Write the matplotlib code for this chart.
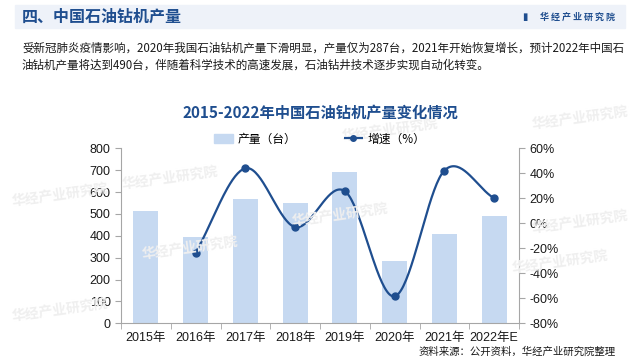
import matplotlib.pyplot as plt
import matplotlib.patches as mpatches
from matplotlib.lines import Line2D
from matplotlib.ticker import FuncFormatter
import numpy as np

CJK = ['Noto Sans CJK SC', 'DejaVu Sans']
NUM = ['Liberation Sans', 'Noto Sans CJK SC']
plt.rcParams['font.family'] = CJK

# data
years = ["2015年", "2016年", "2017年", "2018年", "2019年", "2020年", "2021年", "2022年E"]
output = [513, 393, 566, 549, 690, 287, 408, 490]
growth = [None, -23.4, 44.0, -3.0, 25.7, -58.4, 42.2, 20.1]

bar_color = "#c6d9f1"
line_color = "#1f4e8f"
axis_gray = "#a6a6a6"

fig = plt.figure(figsize=(6.4, 3.63), dpi=100)
fig.patch.set_facecolor("white")

# header band
fig.patches.append(mpatches.Rectangle((15/640, 1-28/363), 610/640, 23/363,
                                      transform=fig.transFigure, color="#eef2f9", zorder=0))
fig.text(22/640, 1-17/363, "四、中国石油钻机产量", fontsize=11.5, fontweight="bold",
         color="#1f4e8f", va="center", ha="left")
fig.text(522/640, 1-17/363, "▮", fontsize=7, color="#1f4e8f", va="center", ha="left",
         family=['DejaVu Sans'])
fig.text(615/640, 1-17/363, "华 经 产 业 研 究 院", fontsize=6.5, fontweight="bold",
         color="#1f4e8f", va="center", ha="right")

# paragraph
fig.text(22/640, 1-48/363,
         "受新冠肺炎疫情影响，2020年我国石油钻机产量下滑明显，产量仅为287台，2021年开始恢复增长，预计2022年中国石",
         fontsize=8.3, color="#1a1a1a", va="center", ha="left")
fig.text(22/640, 1-65/363,
         "油钻机产量将达到490台，伴随着科学技术的高速发展，石油钻井技术逐步实现自动化转变。",
         fontsize=8.3, color="#1a1a1a", va="center", ha="left")

# chart title
fig.text(320/640, 1-113/363, "2015-2022年中国石油钻机产量变化情况", fontsize=11,
         fontweight="bold", color="#1f4e8f", va="center", ha="center")

# faint watermarks
for wx, wy in [(170, 178), (60, 195), (60, 310), (190, 248), (340, 215),
               (580, 222), (580, 118), (560, 262), (390, 130)]:
    fig.text(wx/640, 1-wy/363, "华经产业研究院", fontsize=10, fontweight="bold",
             color="#efefef", rotation=8, ha="center", va="center", zorder=0)

ax = fig.add_axes([121/640, 1-323.3/363, 398/640, 175/363])
ax.set_facecolor("none")
x = np.arange(len(years))
ax.bar(x, output, width=0.5, color=bar_color, zorder=2)
ax.set_xlim(-0.5, len(years) - 0.5)
ax.set_ylim(0, 800)
ax.set_yticks(range(0, 801, 100))
ax.set_xticks(x)
ax.set_xticklabels(years, family=NUM, fontsize=9, color="#1a1a1a")
ax.set_xticks(np.arange(-0.5, len(years), 1), minor=True)
ax.tick_params(axis="x", which="major", length=0, pad=6)
ax.tick_params(axis="x", which="minor", length=4, color=axis_gray)
ax.tick_params(axis="y", length=4, color=axis_gray, labelsize=9, labelcolor="#1a1a1a")
for lab in ax.get_yticklabels():
    lab.set_family(NUM)
for s in ["top", "right"]:
    ax.spines[s].set_visible(False)
for s in ["left", "bottom"]:
    ax.spines[s].set_color(axis_gray)

ax2 = ax.twinx()
ax2.set_ylim(-80, 60)
ax2.set_yticks(range(-80, 61, 20))
ax2.yaxis.set_major_formatter(FuncFormatter(lambda v, p: f"{v:.0f}%"))
ax2.tick_params(axis="y", length=4, color=axis_gray, labelsize=9, labelcolor="#1a1a1a")
for lab in ax2.get_yticklabels():
    lab.set_family(NUM)
for s in ["top", "left", "bottom"]:
    ax2.spines[s].set_visible(False)
ax2.spines["right"].set_color(axis_gray)

# smoothed growth line (Catmull-Rom through the data points)
gx = np.array([i for i, g in enumerate(growth) if g is not None], dtype=float)
gy = np.array([g for g in growth if g is not None], dtype=float)
pts = np.column_stack([gx, gy])
ext = np.vstack([pts[0] - (pts[1] - pts[0]), pts, pts[-1] + (pts[-1] - pts[-2])])
cx, cy = [], []
for i in range(1, len(ext) - 2):
    p0, p1, p2, p3 = ext[i-1], ext[i], ext[i+1], ext[i+2]
    t = np.linspace(0, 1, 40)[:, None]
    c = 0.5 * ((2*p1) + (-p0 + p2)*t + (2*p0 - 5*p1 + 4*p2 - p3)*t**2 + (-p0 + 3*p1 - 3*p2 + p3)*t**3)
    cx.extend(c[:, 0]); cy.extend(c[:, 1])
ax2.plot(cx, cy, color=line_color, lw=1.6, zorder=3)
ax2.plot(gx, gy, "o", color=line_color, ms=5, zorder=4)

handles = [mpatches.Patch(color=bar_color),
           Line2D([], [], color=line_color, lw=1.6, ls="--", marker="o", ms=4)]
fig.legend(handles, ["产量（台）", "增速（%）"], loc="center", bbox_to_anchor=(320/640, 1-139/363),
           ncol=2, frameon=False, fontsize=8.5, handlelength=1.6, columnspacing=4,
           handletextpad=0.4)

fig.text(616/640, 1-352/363, "资料来源：公开资料，华经产业研究院整理", fontsize=7.5,
         color="#1a1a1a", ha="right", va="center")

fig.savefig("out.png", dpi=100)
